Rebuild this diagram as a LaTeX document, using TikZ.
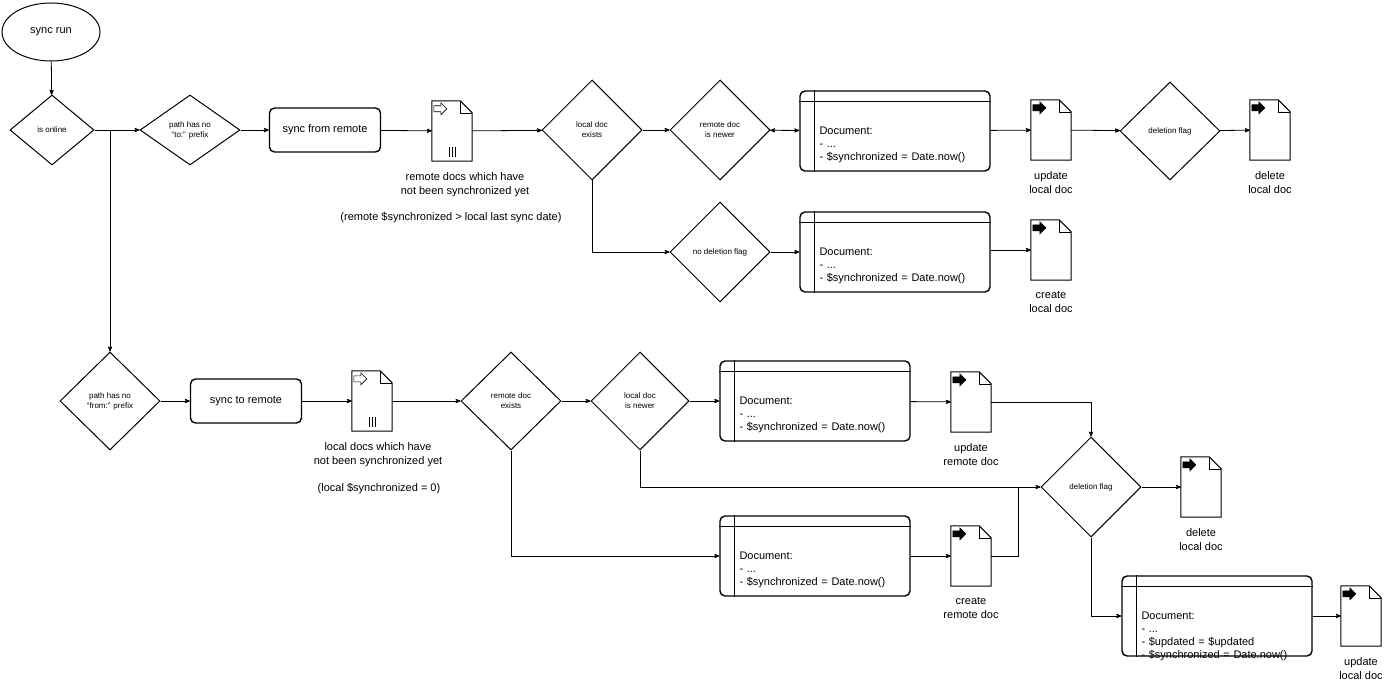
\documentclass[tikz,border=0pt]{standalone}
\usepackage{fontspec}
\setmainfont{Liberation Sans}
\usetikzlibrary{shapes,arrows,positioning}

% folded document icon drawn round an (invisible) node
\newcommand{\docicon}[2]{%
  \draw[line width=1pt] (#1.south west) -- (#1.south east) -- ([yshift=-12]#1.north east)
    -- ([xshift=-12]#1.north east) -- (#1.north west) -- cycle;
  \draw[thin] ([xshift=-12]#1.north east) -- ([xshift=-12,yshift=-12]#1.north east)
    -- ([yshift=-12]#1.north east);
  \draw[#2, line width=.6pt] ([shift={(2,5)}]#1.north west) -- ++(7,0) -- ++(0,-3) -- ++(6,6)
    -- ++(-6,6) -- ++(0,-3) -- ++(-7,0) -- cycle;
}
% table-like document box
\newcommand{\tablelines}[1]{%
  \draw[thick] ([yshift=-11]#1.north west) -- ([yshift=-11]#1.north east);
  \draw[thick] ([xshift=15]#1.north west) -- ([xshift=15]#1.south west);
}

\begin{document}
\begin{tikzpicture}[x=1pt, y=-1pt, >=stealth', font=\fontsize{11}{13}\selectfont]
\tikzset{
  base/.style={draw, line width=1pt, align=center},
  proc/.style={base, rectangle, rounded corners=5pt, line width=1.4pt, minimum width=111, minimum height=44},
  test/.style={base, diamond, inner sep=0pt, minimum width=100, minimum height=100,
    font=\fontsize{8}{10}\selectfont},
  doc/.style={minimum width=40, minimum height=60, inner sep=0pt},
  tbl/.style={draw, line width=1.4pt, rounded corners=5pt, minimum width=190, minimum height=80,
    align=left, text width=165, inner sep=0pt, text depth=-6pt},
  lbl/.style={align=center, font=\fontsize{11}{14}\selectfont},
  norm/.style={->, draw, line width=.8pt}
}
\useasboundingbox (0,0) rectangle (1385,682);
% ------------------------------------------------- top branch
\node [base, ellipse, minimum width=98, minimum height=58] (s0) at (51,32) {sync run};
\node [test, minimum width=84, minimum height=70] (t0) at (52,130) {is online};
\node [test, minimum height=70] (t1) at (190,130) {path has no\\``to:'' prefix};
\node [proc] (p1) at (325,130) {sync from remote};
\node [doc] (d1) at (452,131) {};
\node [lbl, below=8pt of d1.south, xshift=13] (l1) {remote docs which have\\not been synchronized yet};
\node [lbl] (l1b) at (451,218) {(remote \$synchronized > local last sync date)};
\node [test] (t2) at (592,130) {local doc\\exists};
\node [test] (t3) at (720,130) {remote doc\\is newer};
\node [tbl] (b1) at (895,131) {\hspace*{7pt}Document:\\\hspace*{7pt}- ...\\\hspace*{7pt}- \$synchronized = Date.now()};
\node [doc] (d2) at (1051,130) {};
\node [lbl, below=8pt of d2.south] (l2) {update\\local doc};
\node [test, minimum height=98] (t4) at (1170,131) {deletion flag};
\node [doc] (d3) at (1270,130) {};
\node [lbl, below=8pt of d3.south] (l3) {delete\\local doc};
\node [test] (t5) at (720,252) {no deletion flag};
\node [tbl] (b2) at (895,252) {\hspace*{7pt}Document:\\\hspace*{7pt}- ...\\\hspace*{7pt}- \$synchronized = Date.now()};
\node [doc] (d4) at (1051,250) {};
\node [lbl, below=8pt of d4.south] (l4) {create\\local doc};
% ------------------------------------------------- bottom branch
\node [test, minimum height=98] (t6) at (110,401) {path has no\\``from:'' prefix};
\node [proc] (p2) at (246,401) {sync to remote};
\node [doc] (d5) at (372,401) {};
\node [lbl, below=8pt of d5.south, xshift=6] (l5) {local docs which have\\not been synchronized yet};
\node [lbl] (l5b) at (379,489) {(local \$synchronized = 0)};
\node [test, minimum height=98] (t7) at (511,401) {remote doc\\exists};
\node [test, minimum width=98, minimum height=98] (t8) at (640,401) {local doc\\is newer};
\node [tbl] (b3) at (815,401) {\hspace*{7pt}Document:\\\hspace*{7pt}- ...\\\hspace*{7pt}- \$synchronized = Date.now()};
\node [doc] (d6) at (971,402) {};
\node [lbl, below=8pt of d6.south] (l6) {update\\remote doc};
\node [test] (t9) at (1091,487) {deletion flag};
\node [doc] (d7) at (1201,487) {};
\node [lbl, below=8pt of d7.south] (l7) {delete\\local doc};
\node [tbl] (b4) at (815,556) {\hspace*{7pt}Document:\\\hspace*{7pt}- ...\\\hspace*{7pt}- \$synchronized = Date.now()};
\node [doc] (d8) at (971,556) {};
\node [lbl, below=8pt of d8.south] (l8) {create\\remote doc};
\node [tbl] (b5) at (1217,616) {\hspace*{7pt}Document:\\\hspace*{7pt}- ...\\\hspace*{7pt}- \$updated = \$updated\\\hspace*{7pt}- \$synchronized = Date.now()};
\node [doc] (d9) at (1361,616) {};
\node [lbl, below=8pt of d9.south] (l9) {update\\local doc};
% ------------------------------------------------- icons
\foreach \d in {d2,d3,d4,d6,d7,d8,d9} {\docicon{\d}{fill=black}}
\foreach \d in {d1,d5} {
  \docicon{\d}{fill=white}
  \draw[thin] ([shift={(-3,-4)}]\d.south) -- ++(0,-10)
    ([shift={(0,-4)}]\d.south) -- ++(0,-10) ([shift={(3,-4)}]\d.south) -- ++(0,-10);
}
\foreach \b in {b1,b2,b3,b4,b5} {\tablelines{\b}}
% ------------------------------------------------- connectors
\draw [norm] (s0) -- (t0);
\draw [norm] (t0) -- (t1);
\draw [norm] (t1) -- (p1);
\draw [norm] (p1) -- (d1);
\draw [norm] (d1) -- (t2);
\draw [norm] (t2) -- (t3);
\draw [<->, line width=.8pt] (t3) -- (b1);
\draw [norm] (b1) -- (d2);
\draw [norm] (d2) -- (t4);
\draw [norm] (t4) -- (d3);
\draw [norm] (t2.south) |- (t5.west);
\draw [norm] (t5) -- (b2);
\draw [norm] (b2.east |- d4) -- (d4);
\draw [norm] (t0.east -| t6.north) -- (t6.north);
\draw [norm] (t6) -- (p2);
\draw [norm] (p2) -- (d5);
\draw [norm] (d5) -- (t7);
\draw [norm] (t7) -- (t8);
\draw [norm] (t8) -- (b3);
\draw [norm] (b3) -- (d6);
\draw [norm] (d6.east) -| (t9.north);
\draw [norm] (t8.south) |- (t9.west);
\draw [line width=.8pt] (d8.east) -| (1018,487);
\draw [norm] (t7.south) |- (b4.west);
\draw [norm] (b4) -- (d8);
\draw [norm] (t9) -- (d7);
\draw [norm] (t9.south) |- (b5.west);
\draw [norm] (b5) -- (d9);
\end{tikzpicture}
\end{document}
